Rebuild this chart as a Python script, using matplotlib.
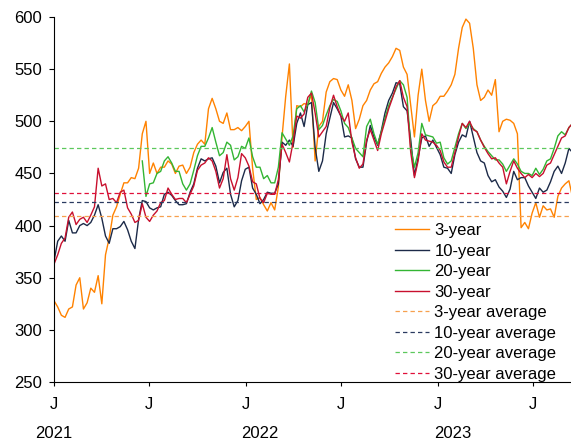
import numpy as np
import pandas as pd
import matplotlib
matplotlib.use("Agg")
import matplotlib.pyplot as plt
import matplotlib.dates as mdates
import matplotlib.transforms as mtransforms

plt.rcParams['font.family'] = ['Liberation Sans', 'DejaVu Sans']

# weekly readings, Jan 2021 - Sep 2023
dates = pd.date_range('2021-01-01', periods=142, freq='7D')

y3 = [328, 322, 314, 312, 320, 322, 343, 350, 320, 326,
      340, 336, 352, 325, 372, 388, 410, 418, 430, 441,
      441, 446, 445, 455, 488, 500, 450, 460, 450, 456,
      456, 462, 459, 450, 457, 458, 450, 456, 470, 478,
      482, 478, 512, 522, 512, 500, 498, 508, 492, 492,
      494, 491, 495, 500, 455, 425, 427, 420, 414, 422,
      415, 437, 485, 524, 555, 475, 515, 514, 517, 516,
      526, 462, 495, 500, 528, 538, 541, 540, 530, 524,
      535, 520, 493, 502, 515, 520, 530, 536, 538, 546,
      552, 556, 562, 570, 568, 552, 545, 515, 485, 525,
      550, 520, 500, 515, 518, 524, 524, 529, 535, 545,
      570, 590, 598, 594, 570, 535, 520, 523, 530, 525,
      540, 490, 500, 502, 501, 498, 488, 398, 403, 397,
      412, 422, 408, 419, 415, 416, 408, 428, 436, 440,
      443, 427]

y10 = [366, 385, 390, 385, 405, 393, 393, 400, 402, 400,
       403, 410, 420, 407, 390, 383, 397, 397, 399, 404,
       396, 385, 378, 406, 424, 423, 417, 415, 417, 418,
       430, 432, 429, 424, 420, 420, 421, 432, 440, 455,
       464, 462, 464, 465, 457, 441, 451, 455, 430, 418,
       424, 443, 454, 456, 436, 430, 421, 425, 432, 431,
       431, 440, 480, 477, 482, 476, 498, 508, 495, 516,
       518, 475, 452, 462, 488, 503, 518, 512, 505, 485,
       486, 484, 464, 456, 456, 480, 496, 485, 477, 491,
       508, 520, 527, 537, 536, 514, 510, 482, 448, 465,
       484, 486, 476, 482, 475, 468, 456, 455, 450, 468,
       480, 487, 485, 500, 485, 470, 462, 460, 448, 442,
       444, 437, 433, 427, 435, 452, 444, 446, 446, 438,
       432, 426, 436, 432, 434, 442, 452, 457, 450, 460,
       474, 470]

# 20-year series starts mid-2021
y20 = [462, 428, 440, 441, 450, 452, 462, 466, 460, 452,
       452, 440, 434, 440, 453, 467, 476, 476, 484, 494,
       480, 467, 470, 480, 477, 463, 466, 476, 474, 484,
       466, 456, 456, 445, 448, 441, 441, 456, 489, 483,
       477, 486, 512, 515, 509, 516, 529, 518, 492, 496,
       506, 515, 521, 519, 510, 498, 494, 484, 474, 470,
       466, 495, 502, 488, 478, 490, 503, 515, 523, 531,
       539, 535, 523, 475, 456, 470, 498, 487, 486, 485,
       479, 480, 465, 459, 462, 475, 488, 498, 493, 498,
       493, 490, 482, 476, 471, 467, 463, 463, 459, 452,
       458, 464, 459, 452, 450, 450, 448, 455, 449, 454,
       462, 464, 474, 486, 490, 487, 494, 498]

y30 = [363, 372, 383, 388, 408, 413, 401, 406, 408, 403,
       410, 418, 455, 438, 440, 425, 426, 422, 432, 434,
       417, 411, 403, 405, 421, 408, 404, 410, 414, 422,
       424, 436, 430, 425, 426, 426, 422, 430, 438, 453,
       458, 460, 465, 462, 452, 436, 445, 468, 445, 434,
       446, 469, 465, 457, 442, 440, 426, 422, 431, 430,
       430, 444, 478, 470, 461, 480, 505, 503, 507, 523,
       527, 508, 485, 490, 495, 513, 525, 514, 505, 500,
       508, 480, 465, 455, 459, 482, 492, 482, 472, 488,
       500, 512, 522, 533, 539, 523, 514, 470, 446, 462,
       488, 482, 481, 480, 477, 472, 461, 456, 456, 470,
       485, 498, 494, 500, 492, 490, 482, 475, 469, 464,
       465, 460, 456, 440, 452, 462, 455, 450, 446, 449,
       446, 450, 447, 450, 458, 460, 468, 476, 484, 486,
       494, 498]

avg3, avg10, avg20, avg30 = 409.5, 422.3, 474.7, 431.0

c3, c10, c20, c30 = '#ff8200', '#1c2a48', '#33b533', '#c8102e'

fig = plt.figure(figsize=(5.71, 4.42), dpi=100)
ax = fig.add_axes([0.0946, 0.1357, 0.9054, 0.8258])

lw = 1.0
ax.plot(dates, y3, color=c3, lw=lw, label='3-year')
ax.plot(dates, y10, color=c10, lw=lw, label='10-year')
ax.plot(dates[-len(y20):], y20, color=c20, lw=lw, label='20-year')
ax.plot(dates, y30, color=c30, lw=lw, label='30-year')

dash = (0, (3.5, 2.5))
ax.axhline(avg3, color='#f7a04e', lw=0.9, ls=dash, label='3-year average')
ax.axhline(avg10, color='#2a3a60', lw=0.9, ls=dash, label='10-year average')
ax.axhline(avg20, color='#5cc85c', lw=0.9, ls=dash, label='20-year average')
ax.axhline(avg30, color='#e0103a', lw=0.9, ls=dash, label='30-year average')

ax.set_ylim(250, 600)
ax.set_yticks(range(250, 601, 50))
ax.set_xlim(pd.Timestamp('2021-01-01'), pd.Timestamp('2023-09-12'))

ax.xaxis.set_major_locator(mdates.MonthLocator(bymonth=[1, 7]))
ax.xaxis.set_major_formatter(mdates.DateFormatter('%b'))
ax.set_xticklabels(['J'] * len(ax.get_xticks()))

for s in ['top', 'right']:
    ax.spines[s].set_visible(False)
for s in ['left', 'bottom']:
    ax.spines[s].set_linewidth(0.8)

ax.tick_params(axis='y', direction='out', length=3.5, width=0.8, pad=5, labelsize=12)
ax.tick_params(axis='x', direction='out', length=2.7, width=0.8, pad=8, labelsize=12)

trans = mtransforms.blended_transform_factory(ax.transData, ax.transAxes)
for d, yr in [('2021-01-01', '2021'), ('2022-01-28', '2022'), ('2023-01-29', '2023')]:
    ax.text(mdates.date2num(pd.Timestamp(d)), -0.14, yr, transform=trans,
            ha='center', va='center', fontsize=12)

ax.legend(loc='upper left', bbox_to_anchor=(0.66, 0.435), frameon=False,
          fontsize=12, handlelength=2.05, handletextpad=0.3, labelspacing=0.33,
          borderpad=0, borderaxespad=0)

fig.savefig('out.png', dpi=100)
